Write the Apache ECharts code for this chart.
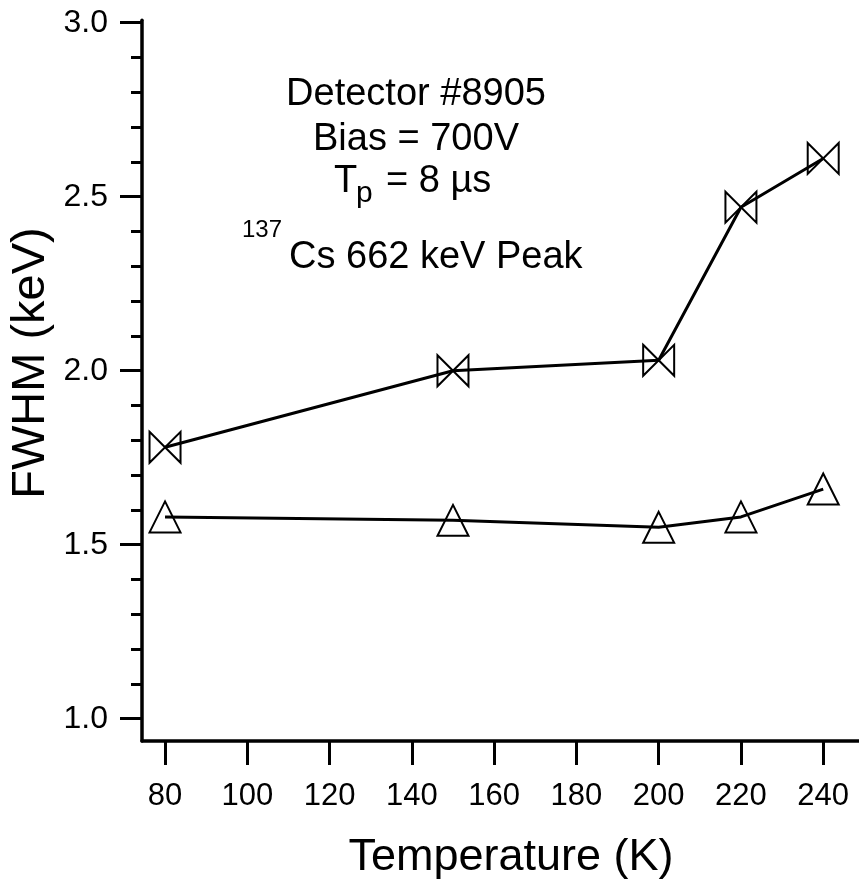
<!DOCTYPE html>
<html>
<head>
<meta charset="utf-8">
<script src="https://cdn.jsdelivr.net/npm/echarts@6/dist/echarts.min.js"></script>
<style>
html,body{margin:0;padding:0;background:#fff;}
#chart{width:859px;height:883px;}
</style>
</head>
<body>
<div id="chart"></div>
<script>
var temps = [80, 150, 200, 220, 240];
var fwhmUpper = [1.78, 2.00, 2.03, 2.47, 2.61];
var fwhmLower = [1.58, 1.57, 1.55, 1.58, 1.66];
var xTicks = [80, 100, 120, 140, 160, 180, 200, 220, 240];
var yTicks = [1.0, 1.5, 2.0, 2.5, 3.0];
var yMinorTicks = [1.1, 1.2, 1.3, 1.4, 1.6, 1.7, 1.8, 1.9, 2.1, 2.2, 2.3, 2.4, 2.6, 2.7, 2.8, 2.9];

var font = 'Liberation Sans, Arial, sans-serif';
var bowtie = 'path://M0,0L10,10L10,0L0,10Z';

function pairs(xs, ys) {
    return xs.map(function (x, i) { return [x, ys[i]]; });
}

var chart = echarts.init(document.getElementById('chart'));

var option = {
    backgroundColor: '#fff',
    animation: false,
    grid: {
        left: 142,
        right: 0,
        top: 20.3,
        bottom: 142
    },
    xAxis: {
        type: 'value',
        min: 74.4,
        max: 248.7,
        axisLine: { lineStyle: { color: '#000', width: 3.5 } },
        axisTick: {
            customValues: xTicks,
            length: 24,
            lineStyle: { color: '#000', width: 3 }
        },
        axisLabel: {
            customValues: xTicks,
            margin: 40,
            color: '#000',
            fontFamily: font,
            fontSize: 31
        },
        splitLine: { show: false }
    },
    yAxis: [
        {
            type: 'value',
            min: 0.936,
            max: 3.007,
            axisLine: { show: true, lineStyle: { color: '#000', width: 3.5 } },
            axisTick: {
                show: true,
                customValues: yTicks,
                length: 22,
                lineStyle: { color: '#000', width: 3 }
            },
            axisLabel: {
                customValues: yTicks,
                margin: 34,
                color: '#000',
                fontFamily: font,
                fontSize: 32,
                formatter: function (v) { return v.toFixed(1); }
            },
            splitLine: { show: false }
        },
        {
            type: 'value',
            position: 'left',
            min: 0.936,
            max: 3.007,
            axisLine: { show: false },
            axisTick: {
                show: true,
                customValues: yMinorTicks,
                length: 11,
                lineStyle: { color: '#000', width: 3 }
            },
            axisLabel: { show: false },
            splitLine: { show: false }
        }
    ],
    series: [
        {
            type: 'line',
            data: pairs(temps, fwhmUpper),
            symbol: bowtie,
            symbolSize: [31, 31],
            lineStyle: { color: '#000', width: 3 },
            itemStyle: { color: 'transparent', borderColor: '#000', borderWidth: 2 }
        },
        {
            type: 'line',
            data: pairs(temps, fwhmLower),
            symbol: 'triangle',
            symbolSize: [31, 31],
            lineStyle: { color: '#000', width: 3 },
            itemStyle: { color: 'transparent', borderColor: '#000', borderWidth: 2 }
        }
    ],
    graphic: [
        { type: 'text', x: 416, y: 95, style: { text: 'Detector #8905', font: '38px ' + font, fill: '#000', textAlign: 'center', textVerticalAlign: 'middle' } },
        { type: 'text', x: 416, y: 140, style: { text: 'Bias = 700V', font: '38px ' + font, fill: '#000', textAlign: 'center', textVerticalAlign: 'middle' } },
        { type: 'text', x: 334, y: 182, style: { text: 'T', font: '38px ' + font, fill: '#000', textAlign: 'left', textVerticalAlign: 'middle' } },
        { type: 'text', x: 356, y: 194, style: { text: 'p', font: '30px ' + font, fill: '#000', textAlign: 'left', textVerticalAlign: 'middle' } },
        { type: 'text', x: 386, y: 182, style: { text: '= 8 µs', font: '38px ' + font, fill: '#000', textAlign: 'left', textVerticalAlign: 'middle' } },
        { type: 'text', x: 242, y: 230, style: { text: '137', font: '24px ' + font, fill: '#000', textAlign: 'left', textVerticalAlign: 'middle' } },
        { type: 'text', x: 289, y: 258, style: { text: 'Cs 662 keV Peak', font: '38px ' + font, fill: '#000', textAlign: 'left', textVerticalAlign: 'middle' } },
        { type: 'text', x: 511, y: 858, style: { text: 'Temperature (K)', font: '45px ' + font, fill: '#000', textAlign: 'center', textVerticalAlign: 'middle' } },
        { type: 'text', x: 31, y: 363, rotation: Math.PI / 2, style: { text: 'FWHM (keV)', font: '47px ' + font, fill: '#000', textAlign: 'center', textVerticalAlign: 'middle' } }
    ]
};

chart.setOption(option);
</script>
</body>
</html>
